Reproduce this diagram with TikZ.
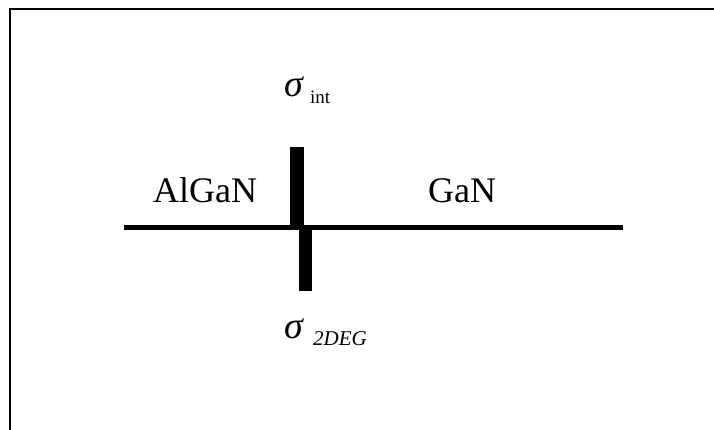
\documentclass[tikz,border=0pt]{standalone}
\usepackage{fontspec}
\setmainfont{Liberation Serif}
\begin{document}
\begin{tikzpicture}[x=1pt,y=-1pt,
  big/.style={inner sep=0pt,anchor=base west,font=\fontsize{36}{40}\selectfont},
  sig/.style={inner sep=0pt,anchor=base west,font=\fontsize{38}{42}\selectfont\itshape},
  sub/.style={inner sep=0pt,anchor=base west,font=\fontsize{19}{22}\selectfont},
  bar/.style={fill=black,draw=none}]
\useasboundingbox (0,0) rectangle (714,430);
\coordinate (bl) at (10,430);
\coordinate (tl) at (10,9);
\coordinate (tr) at (714,9);
\draw[line width=2.2pt] (bl) -- (tl) -- (tr);
\coordinate (ifl) at (124,228);
\coordinate (ifr) at (623,228);
\draw[line width=5pt] (ifl) -- (ifr);
\fill[bar] (290,147) rectangle (304,230);
\fill[bar] (299,226) rectangle (312,291);
\node[big] (algan) at (153,203) {AlGaN};
\node[big] (gan) at (428,203) {GaN};
\node[sig] (s1) at (284,97) {σ};
\node[sub] (int) at (310,104) {int};
\node[sig] (s2) at (284,338) {σ};
\node[sub,font=\fontsize{21}{24}\selectfont\itshape] (deg) at (313,345) {2DEG};
\end{tikzpicture}
\end{document}
